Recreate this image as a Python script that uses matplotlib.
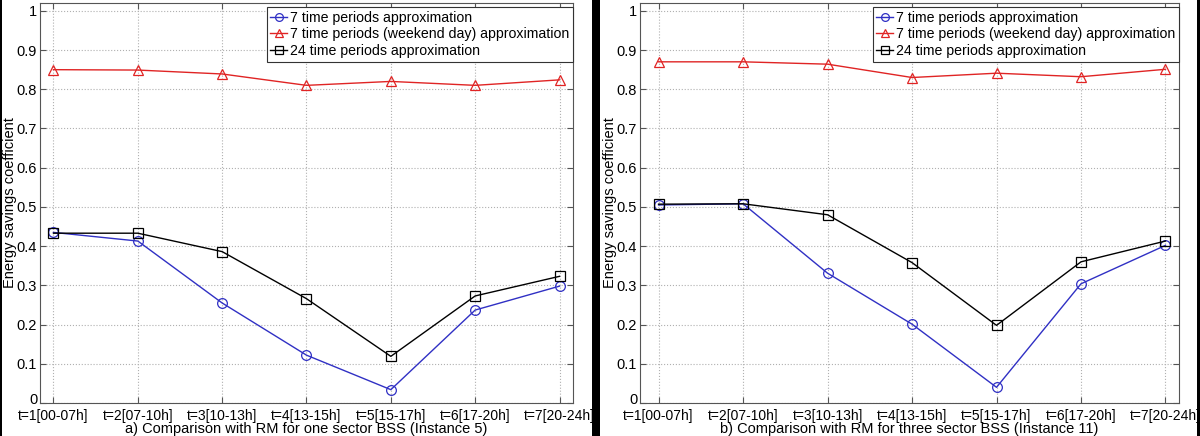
import matplotlib.pyplot as plt
from matplotlib.patches import Rectangle
from matplotlib.transforms import ScaledTranslation

plt.rcParams['font.family'] = ['Liberation Sans', 'DejaVu Sans']

periods = [1, 2, 3, 4, 5, 6, 7]
tick_labels = ['t=1[00-07h]', 't=2[07-10h]', 't=3[10-13h]', 't=4[13-15h]',
               't=5[15-17h]', 't=6[17-20h]', 't=7[20-24h]']
series_names = ['7 time periods approximation',
                '7 time periods (weekend day) approximation',
                '24 time periods approximation']

# panel a) one sector BSS (Instance 5)
a_seven = [0.435, 0.413, 0.255, 0.122, 0.034, 0.237, 0.298]
a_weekend = [0.850, 0.849, 0.839, 0.810, 0.820, 0.810, 0.824]
a_twentyfour = [0.433, 0.433, 0.386, 0.266, 0.119, 0.273, 0.323]

# panel b) three sector BSS (Instance 11)
b_seven = [0.505, 0.508, 0.331, 0.201, 0.040, 0.304, 0.402]
b_weekend = [0.870, 0.870, 0.864, 0.830, 0.841, 0.832, 0.851]
b_twentyfour = [0.507, 0.508, 0.480, 0.358, 0.198, 0.360, 0.413]

titles = ['a) Comparison with RM for one sector BSS (Instance 5)',
          'b) Comparison with RM for three sector BSS (Instance 11)']

fig = plt.figure(figsize=(12, 4.36), dpi=100, facecolor='black')
# white panels on the black background
fig.patches.append(Rectangle((2 / 1200, 0), 590 / 1200, 1, transform=fig.transFigure,
                             facecolor='white', edgecolor='none', zorder=-10))
fig.patches.append(Rectangle((600 / 1200, 0), 597 / 1200, 1, transform=fig.transFigure,
                             facecolor='white', edgecolor='none', zorder=-10))

positions = [[40 / 1200, 33 / 436, 533 / 1200, 400 / 436],
             [640 / 1200, 33 / 436, 539 / 1200, 400 / 436]]
xlims = [(0.84, 7.16), (0.78, 7.16)]
data = [(a_seven, a_weekend, a_twentyfour), (b_seven, b_weekend, b_twentyfour)]

for i in range(2):
    ax = fig.add_axes(positions[i])
    seven, weekend, twentyfour = data[i]
    ax.plot(periods, seven, color='#3030c4', lw=1, marker='o', ms=7,
            mfc='none', mec='#3030c4', mew=0.9, label=series_names[0])
    ax.plot(periods, weekend, color='#e02424', lw=1, marker='^', ms=7,
            mfc='none', mec='#e02424', mew=0.9, label=series_names[1])
    ax.plot(periods, twentyfour, color='black', lw=1, marker='s', ms=7,
            mfc='none', mec='black', mew=0.9, label=series_names[2])

    ax.set_xlim(*xlims[i])
    ax.set_ylim(0, 1.02)
    ax.set_xticks(periods)
    ax.set_xticklabels(tick_labels, fontsize=10)
    yt = [0, 0.1, 0.2, 0.3, 0.4, 0.5, 0.6, 0.7, 0.8, 0.9, 1]
    ax.set_yticks(yt)
    ax.set_yticklabels(['0', '0.1', '0.2', '0.3', '0.4', '0.5', '0.6', '0.7',
                        '0.8', '0.9', '1'], fontsize=10.5)
    ax.tick_params(direction='in', length=4, top=True, right=True, pad=2,
                   color='#555555')
    ax.tick_params(axis='x', pad=4)
    # nudge the "0" label up a little, like the original
    zero = ax.get_yticklabels()[0]
    zero.set_transform(zero.get_transform() + ScaledTranslation(0, 0.05, fig.dpi_scale_trans))
    ax.grid(True, linestyle=':', color='#b0b0b0', lw=0.8)
    for s in ax.spines.values():
        s.set_color('#555555')
        s.set_linewidth(0.8)
    ax.set_ylabel('Energy savings coefficient', fontsize=10.5, labelpad=0)
    ax.set_xlabel(titles[i], fontsize=10.5, va='top')
    ax.xaxis.set_label_coords(0.5, -0.047)
    leg = ax.legend(loc='upper right', bbox_to_anchor=(1.0, 0.99), fontsize=10.2,
                    handlelength=1.2, handletextpad=0.2, borderpad=0.25,
                    labelspacing=0.2, borderaxespad=0, fancybox=False,
                    framealpha=1, edgecolor='#333333', markerscale=0.8)
    leg.get_frame().set_linewidth(0.8)

fig.savefig('out.png', dpi=100, facecolor='black')
